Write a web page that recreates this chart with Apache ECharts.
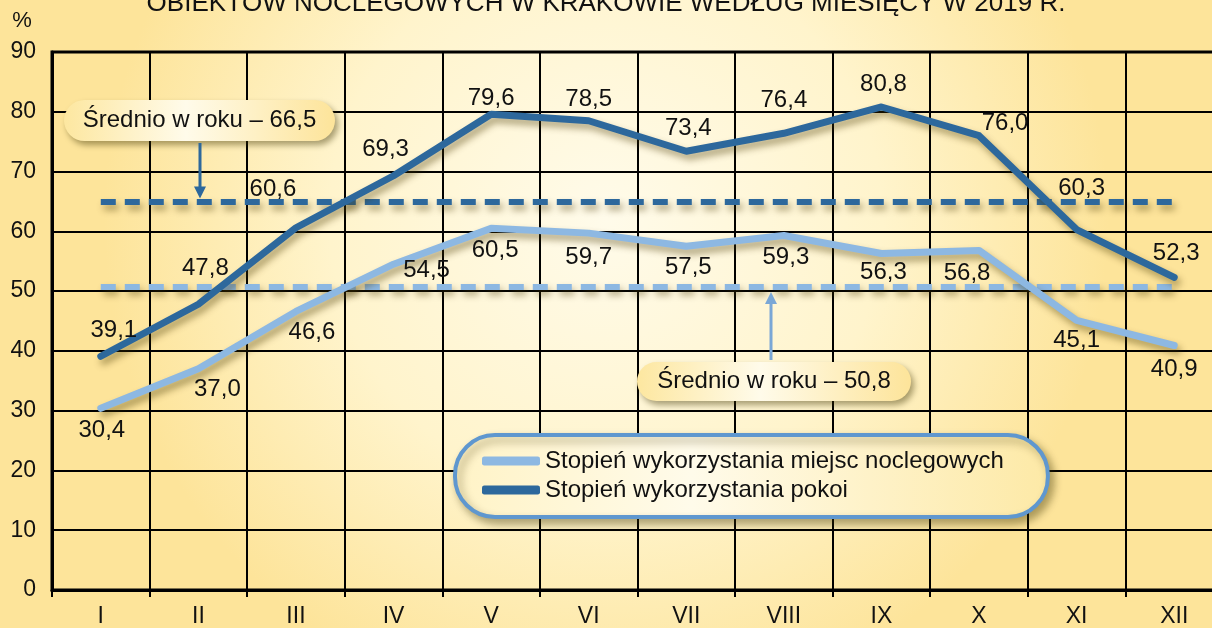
<!DOCTYPE html>
<html><head><meta charset="utf-8">
<script src="https://cdn.jsdelivr.net/npm/echarts@6/dist/echarts.min.js"></script>
<style>html,body{margin:0;padding:0;background:#fff;}#c{width:1212px;height:628px;}</style>
</head><body><div id="c"></div>
<script>
// ---- data ----
const titleText = 'OBIEKTÓW NOCLEGOWYCH W KRAKOWIE WEDŁUG MIESIĘCY W 2019 R.';
const months = ['I','II','III','IV','V','VI','VII','VIII','IX','X','XI','XII'];
const seriesNames = ['Stopień wykorzystania miejsc noclegowych', 'Stopień wykorzystania pokoi'];
const bedsValues  = [30.4, 37.0, 46.6, 54.5, 60.5, 59.7, 57.5, 59.3, 56.3, 56.8, 45.1, 40.9];
const roomsValues = [39.1, 47.8, 60.6, 69.3, 79.6, 78.5, 73.4, 76.4, 80.8, 76.0, 60.3, 52.3];
const avgBedsLevel = 50.7;   // dashed line level as drawn
const avgRoomsLevel = 65.0;  // dashed line level as drawn
const avgBedsText = 'Średnio w roku – 50,8';
const avgRoomsText = 'Średnio w roku – 66,5';
const yMin = 0, yMax = 90, yStep = 10;

// ---- styles ----
const FONT = '"Liberation Sans", Arial, sans-serif';
const DARK = '#2d689c';
const LIGHT = '#8db8e2';
const bedsLabelOffsets  = [[1,22],[19,21],[16,21],[33,6],[4,22],[0,24],[2,21],[2,22],[2,19],[-12,23],[0,20],[0,24]];
const roomsLabelOffsets = [[13,-26],[7,-36],[-23,-38],[-8,-26],[0,-16],[0,-21],[2,-23],[0,-33],[2,-23],[26,-12],[5,-41],[2,-24]];

const fmt = v => v.toFixed(1).replace('.', ',');
function withLabels(values, offsets) {
  return values.map((v, i) => ({ value: v, label: { offset: offsets[i] } }));
}
const shadow = { shadowColor: 'rgba(70,55,0,0.45)', shadowBlur: 7, shadowOffsetX: 3, shadowOffsetY: 5 };

const chart = echarts.init(document.getElementById('c'));
const option = {
  backgroundColor: {
    type: 'radial', x: 0.5, y: 0.35, r: 0.8,
    colorStops: [{offset: 0, color: '#fffbea'}, {offset: 0.55, color: '#fff4cc'}, {offset: 1, color: '#fde49a'}]
  },
  animation: false,
  title: {
    text: titleText, left: 'center', top: -14,
    textStyle: { fontFamily: FONT, fontSize: 26, fontWeight: 'normal', color: '#111' }
  },
  grid: { left: 52, width: 1171, top: 52, bottom: 38, containLabel: false, outerBoundsMode: 'none',
          show: true, borderColor: '#000', borderWidth: 3, backgroundColor: 'transparent' },
  legend: {
    orient: 'vertical', left: 455, top: 435,
    data: seriesNames,
    icon: 'roundRect', itemWidth: 58, itemHeight: 9, itemGap: 5,
    padding: [14, 44, 15, 27],
    backgroundColor: { type: 'linear', x: 0, y: 0, x2: 1, y2: 0,
      colorStops: [{offset: 0, color: '#fff3c6'}, {offset: 0.4, color: '#fffbea'}, {offset: 1, color: '#fde9a6'}] },
    borderColor: '#5f97cf', borderWidth: 4, borderRadius: 40,
    shadowBlur: 8, shadowColor: 'rgba(60,50,0,0.4)', shadowOffsetX: 4, shadowOffsetY: 5,
    textStyle: { fontFamily: FONT, fontSize: 24, color: '#111', lineHeight: 24 }
  },
  xAxis: {
    type: 'category', data: months, boundaryGap: true,
    axisLine: { lineStyle: { color: '#000', width: 3 } },
    axisTick: { show: true, length: 7, interval: 0, lineStyle: { color: '#000', width: 2 } },
    axisLabel: { fontFamily: FONT, fontSize: 23, color: '#111', margin: 15, interval: 0 },
    splitLine: { show: true, interval: 0, lineStyle: { color: '#000', width: 2 } }
  },
  yAxis: {
    type: 'value', min: yMin, max: yMax, interval: yStep,
    name: '%', nameLocation: 'end', nameGap: 20,
    nameTextStyle: { fontFamily: FONT, fontSize: 22, color: '#111', align: 'center', padding: [0, 60, 0, 0] },
    axisLine: { show: true, lineStyle: { color: '#000', width: 3 } },
    axisTick: { show: false },
    axisLabel: { fontFamily: FONT, fontSize: 23, color: '#111', margin: 16 },
    splitLine: { show: true, lineStyle: { color: '#000', width: 2 } }
  },
  series: [
    {
      name: seriesNames[0], type: 'line', data: withLabels(bedsValues, bedsLabelOffsets),
      color: LIGHT, symbol: 'circle', symbolSize: 2, showSymbol: true, z: 4,
      itemStyle: { color: LIGHT },
      lineStyle: Object.assign({ color: LIGHT, width: 7, cap: 'round', join: 'round' }, shadow),
      label: { show: true, position: 'inside', formatter: p => fmt(p.value), fontFamily: FONT, fontSize: 24, color: '#111' },
      markLine: {
        silent: true, symbol: 'none', z: 2, label: { show: false },
        lineStyle: Object.assign({ color: LIGHT, width: 6, type: [15, 9] }, shadow),
        data: [[{ coord: [0, avgBedsLevel] }, { coord: [months.length - 1, avgBedsLevel] }]]
      }
    },
    {
      name: seriesNames[1], type: 'line', data: withLabels(roomsValues, roomsLabelOffsets),
      color: DARK, symbol: 'circle', symbolSize: 2, showSymbol: true, z: 4,
      itemStyle: { color: DARK },
      lineStyle: Object.assign({ color: DARK, width: 7, cap: 'round', join: 'round' }, shadow),
      label: { show: true, position: 'inside', formatter: p => fmt(p.value), fontFamily: FONT, fontSize: 24, color: '#111' },
      markLine: {
        silent: true, symbol: 'none', z: 2, label: { show: false },
        lineStyle: Object.assign({ color: DARK, width: 6, type: [15, 9] }, shadow),
        data: [[{ coord: [0, avgRoomsLevel] }, { coord: [months.length - 1, avgRoomsLevel] }]]
      }
    }
  ]
};
chart.setOption(option);

// callouts with arrows pointing at the average lines
const pillFill = { type: 'linear', x: 0, y: 0, x2: 1, y2: 0,
  colorStops: [{offset: 0, color: '#fde7a0'}, {offset: 0.45, color: '#fffbea'}, {offset: 1, color: '#fde49a'}] };
function callout(box, text, arrowX, arrowFromY, levelY, color, up) {
  const tipY = up ? levelY + 5 : levelY - 3;
  const head = up ? [[arrowX - 6, tipY + 12], [arrowX + 6, tipY + 12], [arrowX, tipY]]
                  : [[arrowX - 6, tipY - 12], [arrowX + 6, tipY - 12], [arrowX, tipY]];
  return [
    { type: 'rect', z: 20, shape: { x: box[0], y: box[1], width: box[2], height: box[3], r: box[3] / 2 },
      style: { fill: pillFill, shadowBlur: 6, shadowColor: 'rgba(60,50,0,0.45)', shadowOffsetX: 3, shadowOffsetY: 4 } },
    { type: 'text', z: 21, style: { text: text, x: box[0] + box[2] / 2, y: box[1] + box[3] / 2,
      textAlign: 'center', textVerticalAlign: 'middle', font: '24px ' + FONT, fill: '#111' } },
    { type: 'line', z: 20, shape: { x1: arrowX, y1: arrowFromY, x2: arrowX, y2: up ? tipY + 10 : tipY - 10 },
      style: { stroke: color, lineWidth: 3 } },
    { type: 'polygon', z: 20, shape: { points: head }, style: { fill: color } }
  ];
}
const yRooms = chart.convertToPixel({ gridIndex: 0 }, [0, avgRoomsLevel])[1];
const yBeds = chart.convertToPixel({ gridIndex: 0 }, [0, avgBedsLevel])[1];
chart.setOption({
  graphic: [].concat(
    callout([64, 100, 271, 41], avgRoomsText, 200, 143, yRooms, DARK, false),
    callout([637, 362, 274, 39], avgBedsText, 771, 360, yBeds, '#7aa7d6', true)
  )
});
</script>
</body></html>
